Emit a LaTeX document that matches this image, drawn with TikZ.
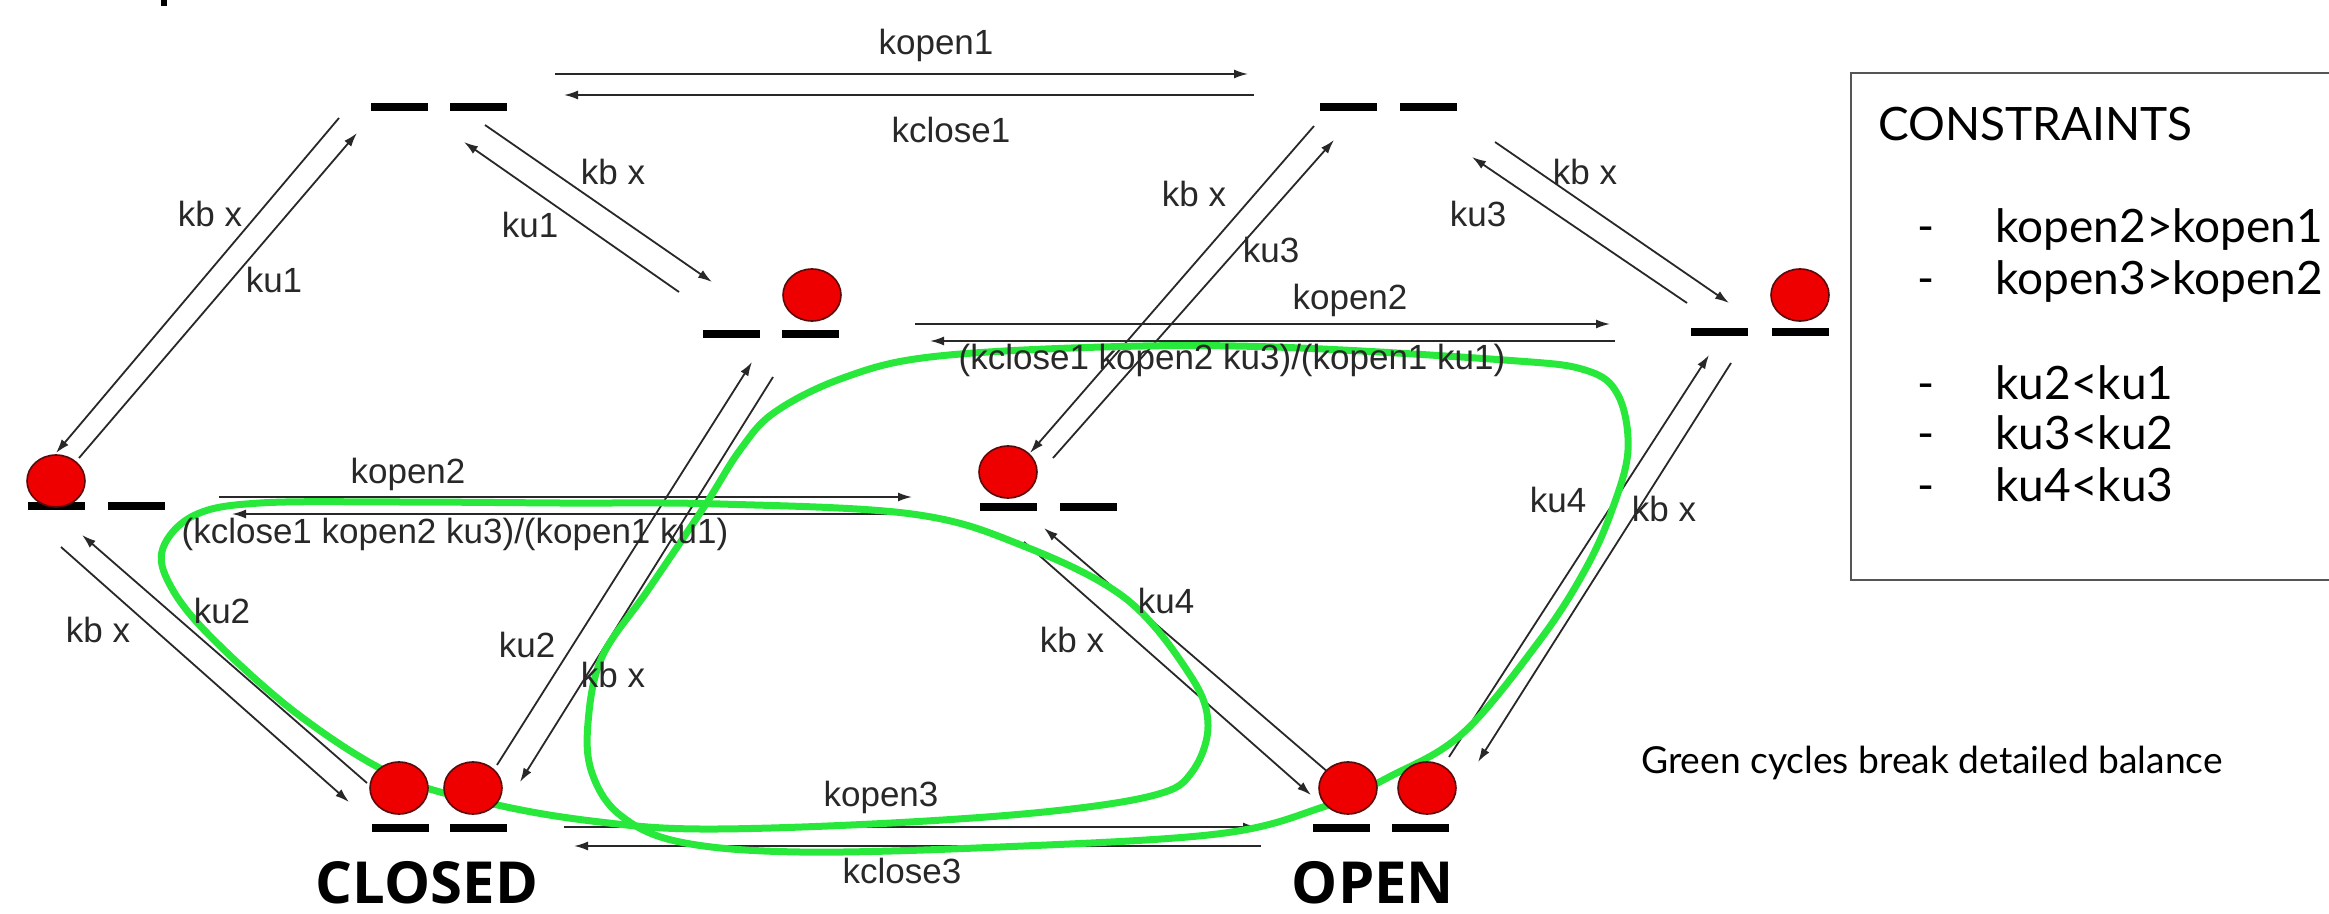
\documentclass[tikz,border=0pt]{standalone}
\usepackage{fontspec}
\setmainfont{Liberation Sans}
\newfontfamily\latofont{Lato}
\newfontfamily\opensansfont{Open Sans}
\usetikzlibrary{arrows.meta,shapes.geometric}
\definecolor{arrowgray}{RGB}{40,40,40}
\definecolor{cycgreen}{RGB}{40,232,60}
\definecolor{ballred}{RGB}{238,0,0}
\definecolor{balledge}{RGB}{90,10,10}
\definecolor{boxgray}{RGB}{85,85,85}
\begin{document}
\begin{tikzpicture}[x=0.5pt,y=-0.5pt,
  rx/.style={draw=arrowgray, line width=0.9pt, -{Latex[length=7pt,width=4.5pt]}},
  sitebar/.style={rectangle, fill=black, minimum width=28.5pt, minimum height=3.6pt, inner sep=0pt},
  ball/.style={ellipse, fill=ballred, draw=balledge, line width=0.8pt, minimum width=29pt, minimum height=26pt, inner sep=0pt},
  lbl/.style={font=\fontsize{17.5}{19}\selectfont, text=arrowgray, inner sep=0pt, anchor=base},
  boxtxt/.style={font=\latofont\fontsize{23}{26}\selectfont, inner sep=0pt},
  gtxt/.style={font=\latofont\fontsize{18.6}{22}\selectfont, inner sep=0pt, anchor=base},
  statetxt/.style={font=\opensansfont\bfseries\fontsize{29}{32}\selectfont, inner sep=0pt, anchor=base},
  cyc/.style={draw=cycgreen, line width=3.5pt},
]
\useasboundingbox (0,0) rectangle (2329,914);
\fill (161,0) rectangle (167,6);

% reaction arrow end points
\coordinate (p1a) at (555,74);   \coordinate (p1b) at (1248,74);
\coordinate (p1c) at (1254,95);  \coordinate (p1d) at (564,95);
\coordinate (p2a) at (339,118);  \coordinate (p2b) at (56,453);
\coordinate (p2c) at (79,458);   \coordinate (p2d) at (357,133);
\coordinate (p3a) at (485,125);  \coordinate (p3b) at (712,282);
\coordinate (p3c) at (679,292);  \coordinate (p3d) at (464,142);
\coordinate (p4a) at (1314,126); \coordinate (p4b) at (1030,453);
\coordinate (p4c) at (1053,458); \coordinate (p4d) at (1334,140);
\coordinate (p5a) at (1495,142); \coordinate (p5b) at (1729,303);
\coordinate (p5c) at (1687,303); \coordinate (p5d) at (1472,157);
\coordinate (p6a) at (915,324);  \coordinate (p6b) at (1610,324);
\coordinate (p6c) at (1615,341); \coordinate (p6d) at (930,341);
\coordinate (p7a) at (219,497);  \coordinate (p7b) at (912,497);
\coordinate (p7c) at (915,514);  \coordinate (p7d) at (232,514);
\coordinate (p8a) at (61,547);   \coordinate (p8b) at (349,802);
\coordinate (p8c) at (367,783);  \coordinate (p8d) at (82,535);
\coordinate (p9a) at (497,765);  \coordinate (p9b) at (752,362);
\coordinate (p9c) at (773,377);  \coordinate (p9d) at (520,782);
\coordinate (p10a) at (1024,542); \coordinate (p10b) at (1311,795);
\coordinate (p10c) at (1329,773); \coordinate (p10d) at (1044,528);
\coordinate (p11a) at (1449,757); \coordinate (p11b) at (1709,355);
\coordinate (p11c) at (1731,363); \coordinate (p11d) at (1478,762);
\coordinate (p12a) at (564,827);  \coordinate (p12b) at (1257,827);
\coordinate (p12c) at (1261,846); \coordinate (p12d) at (574,846);

\foreach \p in {1,...,12}{
  \draw[rx] (p\p a) -- (p\p b);
  \draw[rx] (p\p c) -- (p\p d);
}

% green cycles
\draw[cyc] plot[smooth cycle, tension=0.6] coordinates {
 (163,548) (195,515) (260,503) (400,502) (560,503) (720,504) (912,514)
 (1021,545) (1125,598) (1190,675) (1208,725) (1192,772) (1155,795)
 (1044,812) (872,824) (700,829) (600,822) (502,806) (400,778) (300,716)
 (210,636) (170,585)};
\draw[cyc] plot[smooth cycle, tension=0.6] coordinates {
 (930,357) (1102,347) (1274,347) (1504,360) (1585,370) (1618,395)
 (1628,450) (1612,510) (1585,570) (1540,640) (1463,733) (1389,777)
 (1320,808) (1217,834) (1000,847) (800,852) (680,842) (620,815)
 (592,773) (588,723) (602,657) (648,590) (704,507) (740,450)
 (775,412) (843,378)};

% binding sites
\node[sitebar] (s1l) at (399,107) {};
\node[sitebar] (s1r) at (478,107) {};
\node[sitebar] (s2l) at (1348,107) {};
\node[sitebar] (s2r) at (1428,107) {};
\node[sitebar] (s3l) at (731,334) {};
\node[sitebar] (s3r) at (810,334) {};
\node[sitebar] (s4l) at (1719,332) {};
\node[sitebar] (s4r) at (1800,332) {};
\node[sitebar] (s5l) at (56,506) {};
\node[sitebar] (s5r) at (136,506) {};
\node[sitebar] (s6l) at (1008,507) {};
\node[sitebar] (s6r) at (1088,507) {};
\node[sitebar] (s7l) at (400,828) {};
\node[sitebar] (s7r) at (478,828) {};
\node[sitebar] (s8l) at (1341,828) {};
\node[sitebar] (s8r) at (1420,828) {};

% ligands
\node[ball] (b3) at (812,295) {};
\node[ball] (b4) at (1800,295) {};
\node[ball] (b5) at (56,481) {};
\node[ball] (b6) at (1008,472) {};
\node[ball] (b7l) at (399,788) {};
\node[ball] (b7r) at (473,788) {};
\node[ball] (b8l) at (1348,788) {};
\node[ball] (b8r) at (1427,788) {};

% rate labels
\node[lbl] (t1) at (936,55) {kopen1};
\node[lbl] (t2) at (951,143) {kclose1};
\node[lbl] (t3) at (210,227) {kb x};
\node[lbl] (t4) at (274,293) {ku1};
\node[lbl] (t5) at (613,185) {kb x};
\node[lbl] (t6) at (530,238) {ku1};
\node[lbl] (t7) at (1194,207) {kb x};
\node[lbl] (t8) at (1271,263) {ku3};
\node[lbl] (t9) at (1478,227) {ku3};
\node[lbl] (t10) at (1585,185) {kb x};
\node[lbl] (t11) at (1350,310) {kopen2};
\node[lbl] (t12) at (1232,370) {(kclose1 kopen2 ku3)/(kopen1 ku1)};
\node[lbl] (t13) at (408,484) {kopen2};
\node[lbl] (t14) at (455,543) {(kclose1 kopen2 ku3)/(kopen1 ku1)};
\node[lbl] (t15) at (98,642) {kb x};
\node[lbl] (t16) at (222,623) {ku2};
\node[lbl] (t17) at (527,657) {ku2};
\node[lbl] (t18) at (613,687) {kb x};
\node[lbl] (t19) at (1166,613) {ku4};
\node[lbl] (t20) at (1072,652) {kb x};
\node[lbl] (t21) at (1558,512) {ku4};
\node[lbl] (t22) at (1664,522) {kb x};
\node[lbl] (t23) at (881,806) {kopen3};
\node[lbl] (t24) at (902,883) {kclose3};

% state names
\node[statetxt] (closed) at (427,903) {CLOSED};
\node[statetxt] (open) at (1373,903) {OPEN};

% constraints box
\draw[boxgray, line width=1.4pt] (2340,73) -- (1851,73) -- (1851,580) -- (2340,580);
\node[boxtxt, anchor=base west] (ct) at (1878,141) {CONSTRAINTS};
\node[boxtxt, anchor=base] (d1) at (1926,243) {-};
\node[boxtxt, anchor=base] (d2) at (1926,295) {-};
\node[boxtxt, anchor=base] (d3) at (1926,400) {-};
\node[boxtxt, anchor=base] (d4) at (1926,450) {-};
\node[boxtxt, anchor=base] (d5) at (1926,502) {-};
\node[boxtxt, anchor=base west] (c1) at (1995,243) {kopen2>kopen1};
\node[boxtxt, anchor=base west] (c2) at (1995,295) {kopen3>kopen2};
\node[boxtxt, anchor=base west] (c3) at (1995,400) {ku2<ku1};
\node[boxtxt, anchor=base west] (c4) at (1995,450) {ku3<ku2};
\node[boxtxt, anchor=base west] (c5) at (1995,502) {ku4<ku3};

\node[gtxt] (gc) at (1932,773) {Green cycles break detailed balance};
\end{tikzpicture}
\end{document}
